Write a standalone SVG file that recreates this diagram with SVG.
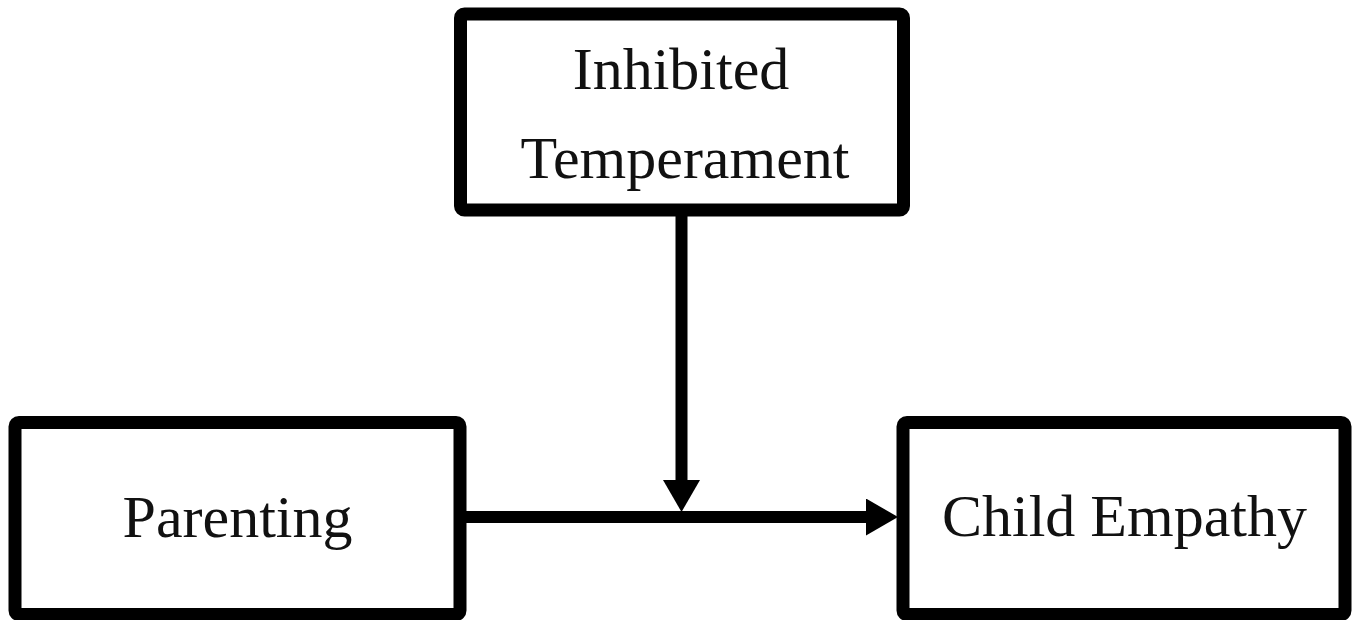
<svg xmlns="http://www.w3.org/2000/svg" width="1357" height="620" viewBox="0 0 1357 620">
  <style>
    .box { fill: #ffffff; stroke: #000000; stroke-width: 13; stroke-linejoin: round; }
    .label { font-family: "Liberation Serif", "Times New Roman", serif; font-size: 60px; fill: #111111; text-anchor: middle; }
    .link { stroke: #000000; stroke-width: 12; fill: none; }
  </style>
  <defs>
    <!-- arrowhead placed so the line ends just inside its base -->
    <marker id="arrow" viewBox="0 0 32 37" refX="2" refY="18.5" markerUnits="userSpaceOnUse" markerWidth="32" markerHeight="37" orient="auto">
      <path d="M0,0 L32,18.5 L0,37 Z" fill="#000000"/>
    </marker>
  </defs>
  <rect width="1357" height="620" fill="#ffffff"/>

  <g id="connectors">
    <line class="link" x1="460" y1="517" x2="868" y2="517" marker-end="url(#arrow)"/>
    <line class="link" x1="681.5" y1="210" x2="681.5" y2="482" marker-end="url(#arrow)"/>
  </g>

  <g id="node-temperament">
    <rect class="box" x="460.5" y="14" width="443" height="196" rx="4"/>
    <text class="label" x="681" y="89">Inhibited</text>
    <text class="label" x="685" y="178">Temperament</text>
  </g>

  <g id="node-parenting">
    <rect class="box" x="15" y="422.5" width="445" height="192" rx="4"/>
    <text class="label" x="237.5" y="537">Parenting</text>
  </g>

  <g id="node-empathy">
    <rect class="box" x="903" y="422.5" width="442" height="192" rx="4"/>
    <text class="label" x="1124.5" y="536">Child Empathy</text>
  </g>
</svg>
